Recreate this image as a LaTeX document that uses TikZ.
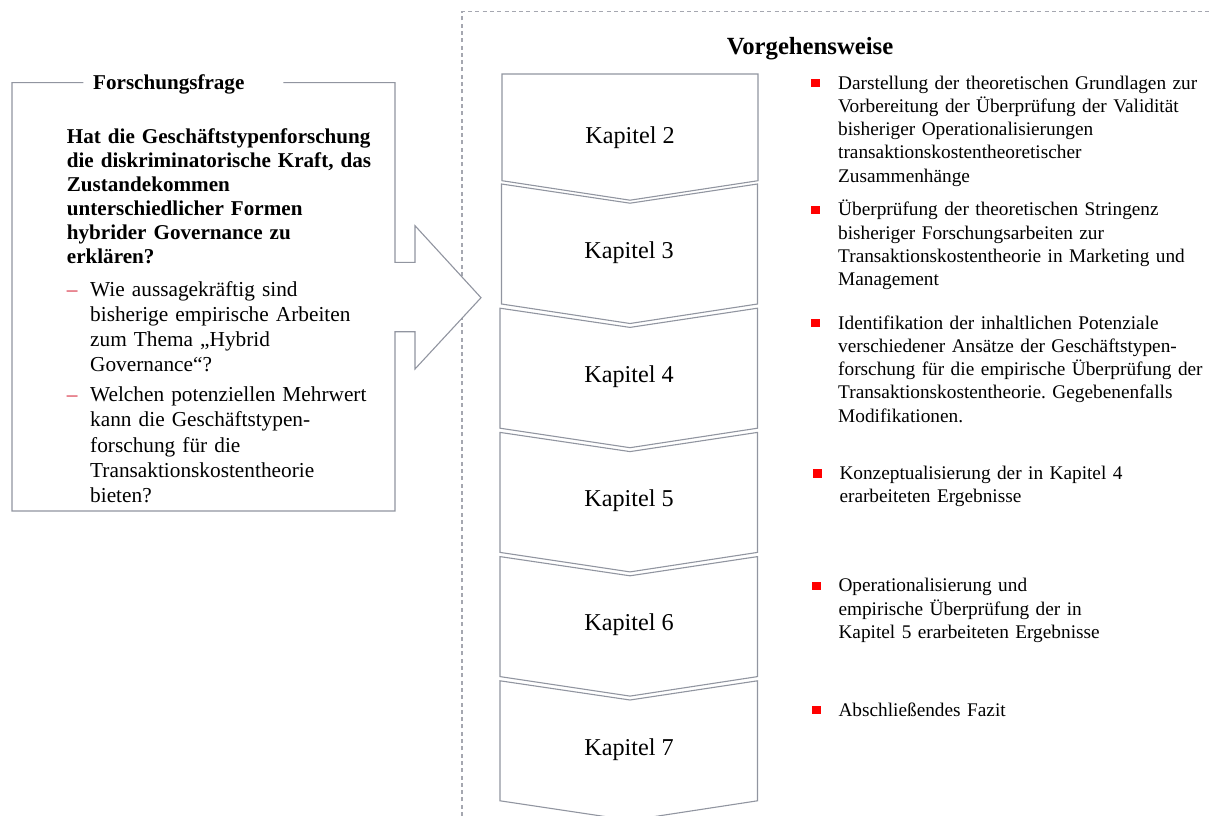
\documentclass[tikz,border=0pt]{standalone}
\usepackage{fontspec}
\setmainfont{Liberation Serif}
\frenchspacing
\definecolor{frame}{RGB}{145,149,160}
\definecolor{dashgrey}{RGB}{165,167,176}
\definecolor{dashred}{RGB}{215,40,60}
\definecolor{bulletred}{RGB}{255,0,0}
\begin{document}
\begin{tikzpicture}[x=1pt,y=-1pt,
  outline/.style={draw=frame,line width=1.1pt,line join=miter},
  kaplabel/.style={anchor=base,inner sep=0,font=\fontsize{24.2}{28}\selectfont},
  qtext/.style={anchor=base west,inner sep=0,text width=330pt,align=left,
    font=\bfseries\fontsize{21.1}{24}\selectfont},
  ltext/.style={anchor=base west,inner sep=0,text width=300pt,align=left,
    font=\fontsize{21.3}{25.15}\selectfont},
  dashmark/.style={anchor=base west,inner sep=0,text=dashred,
    font=\fontsize{21.3}{25.15}\selectfont},
  rtext/.style={anchor=base west,inner sep=0,text width=372pt,align=left,
    font=\fontsize{19.3}{23.33}\selectfont},
  bsq/.style={fill=bulletred,inner sep=0,minimum width=8.8pt,minimum height=8.4pt}]
\useasboundingbox (0,0) rectangle (1211,816);
\clip (0,0) rectangle (1211,816);

% dashed frame of the procedure column
\draw[dashgrey,line width=1.1pt,dash pattern=on 4pt off 3.3pt]
  (462,816) -- (462,11.7) -- (1211,11.7);

% research question box with arrow
\draw[outline,fill=white]
  (83.3,82.7) -- (12,82.7) -- (12,511) -- (395,511) -- (395,331.7)
  -- (415,331.7) -- (415,369) -- (481,297.7) -- (415,225.7)
  -- (415,262.3) -- (395,262.3) -- (395,82.7) -- (283.3,82.7);
\node[anchor=base,inner sep=0,font=\bfseries\fontsize{21.1}{24}\selectfont]
  (fftitle) at (168.8,89) {Forschungsfrage};
\node[qtext] (frage) at (66.7,143.3) {Hat die Geschäftstypenforschung\\
  die diskriminatorische Kraft, das\\ Zustandekommen\\
  unterschiedlicher Formen\\ hybrider Governance zu\\ erklären?};
\node[dashmark] (d1) at (66.7,296.5) {–};
\node[ltext] (q1) at (90,296.5) {Wie aussagekräftig sind\\
  bisherige empirische Arbeiten\\ zum Thema „Hybrid\\ Governance“?};
\node[dashmark] (d2) at (66.7,401.7) {–};
\node[ltext] (q2) at (90,401.7) {Welchen potenziellen Mehrwert\\
  kann die Geschäftstypen-\\ forschung für die\\
  Transaktionskostentheorie\\ bieten?};

% procedure
\node[anchor=base,inner sep=0,font=\bfseries\fontsize{24.7}{28}\selectfont]
  (vorg) at (810,55) {Vorgehensweise};

% chapter chevrons
\draw[outline] (502,74) -- (758,74) -- (758,180.7) -- (630,200.2)
  -- (502,180.7) -- cycle;
\node[kaplabel] (k2) at (630,143) {Kapitel 2};
\foreach \i/\t in {3/184,4/308.2,5/432.4,6/556.6,7/680.8}{
  \pgfmathsetmacro\lft{\i<4 ? 501.5 : 500}
  \draw[outline] (\lft,\t) -- (630,\t+19.2) -- (757.5,\t) -- (757.5,\t+120)
    -- (630,\t+139.5) -- (\lft,\t+120) -- cycle;
  \node[kaplabel] (k\i) at (629,\t+74.3) {Kapitel \i};
}

% bullet list
\node[bsq] (b1) at (815.4,83) {};
\node[rtext] (t1) at (838,89) {Darstellung der theoretischen Grundlagen zur\\
  Vorbereitung der Überprüfung der Validität\\
  bisheriger Operationalisierungen\\
  transaktionskostentheoretischer\\ Zusammenhänge};
\node[bsq] (b2) at (815.4,209.7) {};
\node[rtext] (t2) at (838,215.7) {Überprüfung der theoretischen Stringenz\\
  bisheriger Forschungsarbeiten zur\\
  Transaktionskostentheorie in Marketing und\\ Management};
\node[bsq] (b3) at (815.4,323) {};
\node[rtext] (t3) at (838,329) {Identifikation der inhaltlichen Potenziale\\
  verschiedener Ansätze der Geschäftstypen-\\
  forschung für die empirische Überprüfung der\\
  Transaktionskostentheorie. Gegebenenfalls\\ Modifikationen.};
\node[bsq] (b4) at (817.4,473.3) {};
\node[rtext] (t4) at (839.3,479.3) {Konzeptualisierung der in Kapitel 4\\
  erarbeiteten Ergebnisse};
\node[bsq] (b5) at (816.4,585.7) {};
\node[rtext] (t5) at (838.3,591.7) {Operationalisierung und\\
  empirische Überprüfung der in\\ Kapitel 5 erarbeiteten Ergebnisse};
\node[bsq] (b6) at (816.4,710) {};
\node[rtext] (t6) at (838.3,716) {Abschließendes Fazit};
\end{tikzpicture}
\end{document}
